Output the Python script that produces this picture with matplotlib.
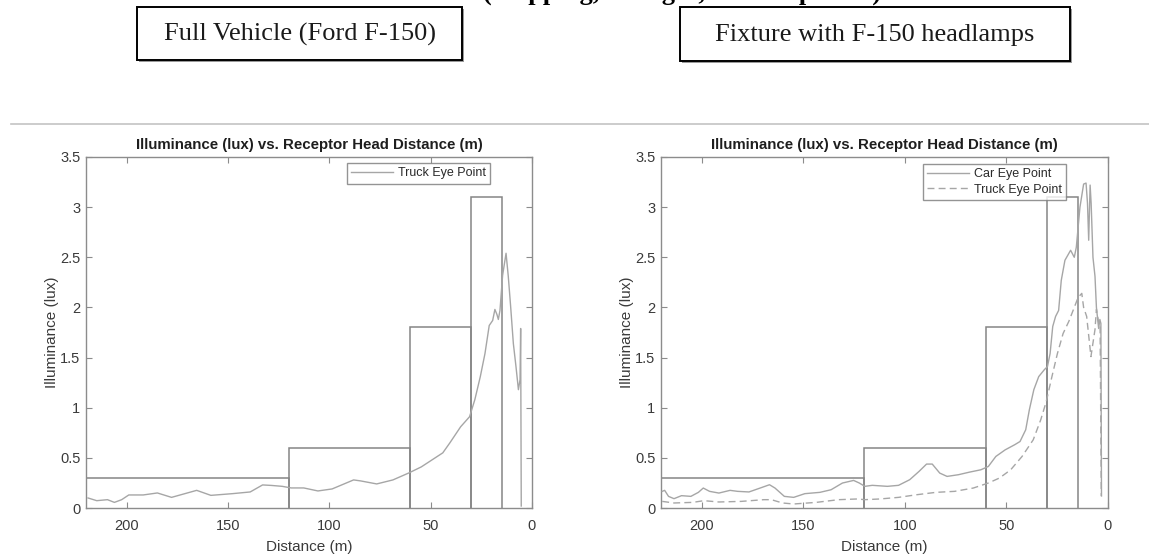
import numpy as np
import matplotlib
matplotlib.use("Agg")
import matplotlib.pyplot as plt
from matplotlib.patches import Rectangle

# ---------------- data ----------------
panel_titles = ["Full Vehicle (Ford F-150)", "Fixture with F-150 headlamps"]
header_text = "(Stopping, Straight, Level Upward)"
plot_title = "Illuminance (lux) vs. Receptor Head Distance (m)"
x_label = "Distance (m)"
y_label = "Illuminance (lux)"
x_ticks = [200, 150, 100, 50, 0]
y_ticks = [0, 0.5, 1, 1.5, 2, 2.5, 3, 3.5]
y_tick_labels = ["0", "0.5", "1", "1.5", "2", "2.5", "3", "3.5"]

# glare limit boxes: distance edges and limit values
limit_edges = [220, 120, 60, 30, 15]
limit_values = [0.3, 0.6, 1.8, 3.1]

# left panel: full vehicle, truck eye point
truck_full_d = [219, 214.7, 209.4, 206, 202.4, 198.9, 191.8, 184.8, 177.8, 165.4,
                158.4, 147.8, 139, 132.9, 128.5, 123.2, 118.8, 112.6, 105.6, 98.6,
                93.3, 88, 84.5, 76.6, 68.6, 60.7, 54.6, 49.3, 44, 40.5,
                35.2, 30.8, 28.2, 25.5, 23.2, 21.1, 19.4, 18.3, 17.3, 16.6,
                15.8, 14.5, 12.8, 11.7, 10.5, 9.2, 7.9, 6.7, 5.9, 5.6, 5.3]
truck_full_lux = [0.10, 0.073, 0.083, 0.056, 0.083, 0.13, 0.13, 0.15, 0.106, 0.176,
                  0.126, 0.143, 0.16, 0.23, 0.225, 0.216, 0.20, 0.20, 0.17, 0.19,
                  0.235, 0.28, 0.27, 0.24, 0.28, 0.35, 0.41, 0.48, 0.55, 0.65,
                  0.81, 0.91, 1.08, 1.31, 1.54, 1.82, 1.87, 1.98, 1.93, 1.88,
                  1.97, 2.32, 2.54, 2.31, 2.0, 1.64, 1.41, 1.18, 1.28, 1.79, 0.02]

# right panel: fixture, car eye point (solid) and truck eye point (dashed)
car_fix_d = [219.4, 218.2, 216.3, 213.6, 209.9, 205.3, 201.6, 199.2, 196.1, 191.5,
             186, 182.3, 176.7, 171.2, 166.6, 163.9, 159.3, 154.7, 149.2, 141.8,
             136.3, 130.7, 125.2, 122.4, 119.7, 116, 108.6, 103.1, 97.6, 93,
             89.3, 86.5, 82.8, 79.2, 73.6, 68.1, 62.6, 58.9, 55.2, 50.6,
             46, 43.3, 40.5, 38.7, 36.5, 34.1, 31.3, 29.8, 28.5, 27.2,
             25.8, 24.3, 23, 21.2, 18.4, 16.6, 15.6, 13.8, 12, 10.8,
             10.1, 9.5, 8.8, 8.3, 7.4, 6.4, 5.7, 4.6, 4.0, 3.5, 3.2]
car_fix_lux = [0.166, 0.176, 0.116, 0.093, 0.123, 0.116, 0.156, 0.199, 0.166, 0.149,
               0.176, 0.166, 0.16, 0.199, 0.232, 0.199, 0.116, 0.106, 0.143, 0.156,
               0.182, 0.249, 0.275, 0.249, 0.216, 0.226, 0.216, 0.226, 0.282, 0.365,
               0.438, 0.438, 0.348, 0.315, 0.332, 0.358, 0.381, 0.414, 0.514, 0.58,
               0.63, 0.663, 0.78, 0.98, 1.18, 1.31, 1.38, 1.41, 1.54, 1.81,
               1.91, 1.97, 2.27, 2.47, 2.57, 2.50, 2.60, 3.0, 3.23, 3.24,
               3.04, 2.67, 3.22, 3.04, 2.50, 2.31, 2.0, 1.79, 1.88, 1.84, 0.12]

truck_fix_d = [219.4, 213.6, 204.4, 198.9, 191.5, 180.5, 169.4, 165.7, 160.2, 154.7,
               143.6, 132.6, 123.4, 119.7, 112.3, 103.1, 93.9, 84.7, 75.5, 66.3,
               58.9, 53.4, 47.9, 42.3, 36.8, 33.1, 30.4, 27.6, 24.9, 22.1,
               19.3, 16.6, 14.7, 12.9, 12, 10.5, 8.4, 6.4, 5.7, 4.6, 3.9, 3.3]
truck_fix_lux = [0.066, 0.05, 0.056, 0.073, 0.06, 0.066, 0.083, 0.083, 0.05, 0.04,
                 0.056, 0.083, 0.09, 0.083, 0.09, 0.106, 0.133, 0.156, 0.166, 0.199,
                 0.249, 0.299, 0.381, 0.514, 0.68, 0.88, 1.06, 1.31, 1.54, 1.74,
                 1.86, 2.0, 2.10, 2.14, 2.0, 1.91, 1.51, 1.78, 1.98, 1.85, 1.85, 0.12]

# ---------------- figure ----------------
W, H = 1149, 557
fig = plt.figure(figsize=(W / 100, H / 100), dpi=100)
fig.patch.set_facecolor("white")

sans = ["Liberation Sans", "DejaVu Sans"]
serif = ["Liberation Serif", "DejaVu Serif"]

# heading that is cut off by the top edge (only descenders visible, as in the source)
fig.text(682 / W, (H + 0.5) / H, header_text, ha="center", va="baseline",
         fontsize=19, fontweight="bold", family=serif, color="black")

# framed panel captions
boxes = [(137, 7, 462, 60), (680, 7, 1070, 61)]
for (x0, y0, x1, y1), txt in zip(boxes, panel_titles):
    fig.add_artist(Rectangle(((x0 + 2) / W, (H - y1 - 2) / H), (x1 - x0) / W, (y1 - y0) / H,
                             transform=fig.transFigure, facecolor="#9a9a9a",
                             edgecolor="none", zorder=1))
    fig.add_artist(Rectangle((x0 / W, (H - y1) / H), (x1 - x0) / W, (y1 - y0) / H,
                             transform=fig.transFigure, facecolor="white",
                             edgecolor="black", linewidth=1.4, zorder=2))
    fig.text((x0 + x1) / 2 / W, (H - (y0 + y1) / 2 - 1) / H, txt, ha="center", va="center",
             fontsize=19, family=serif, color="#1a1a1a", zorder=3)

# separator line
fig.add_artist(plt.Line2D([11 / W, 1.0], [(H - 124) / H] * 2, transform=fig.transFigure,
                          color="#c4c4c4", linewidth=1.2))

axis_col = "#8c8c8c"
text_col = "#3a3a3a"
curve_col = "#a6a6a6"
box_col = "#858585"


def style(ax):
    ax.set_xlim(220, 0)
    ax.set_ylim(0, 3.5)
    ax.set_xticks(x_ticks)
    ax.set_xticklabels([str(t) for t in x_ticks], family=sans)
    ax.set_yticks(y_ticks)
    ax.set_yticklabels(y_tick_labels, family=sans)
    ax.tick_params(direction="in", top=True, right=True, length=4, width=0.8,
                   color=axis_col, labelcolor=text_col, labelsize=10.5, pad=4)
    ax.tick_params(axis="x", pad=8)
    for s in ax.spines.values():
        s.set_color(axis_col)
        s.set_linewidth(1.0)
    ax.set_title(plot_title, fontsize=10.8, fontweight="bold", family=sans,
                 color="#1e1e1e", pad=6)
    ax.set_xlabel(x_label, fontsize=11, family=sans, color=text_col, labelpad=5)
    ax.set_ylabel(y_label, fontsize=11, family=sans, color=text_col, labelpad=1)
    for i, v in enumerate(limit_values):
        a, b = limit_edges[i], limit_edges[i + 1]
        ax.plot([a, a, b, b], [0, v, v, 0], color=box_col, linewidth=1.1,
                solid_joinstyle="miter", clip_on=True, zorder=2)


axL = fig.add_axes([86 / W, (H - 508) / H, 446 / W, 351 / H])
axR = fig.add_axes([661 / W, (H - 508) / H, 447 / W, 351 / H])

leg_kw = dict(loc="upper right", frameon=True, fancybox=False, edgecolor="#7a7a7a",
              handlelength=3.3, borderpad=0.35, handletextpad=0.4, borderaxespad=0,
              labelspacing=0.25, prop={"family": sans, "size": 9})

style(axL)
axL.plot(truck_full_d, truck_full_lux, color=curve_col, linewidth=1.0,
         label="Truck Eye Point", zorder=3)
legL = axL.legend(bbox_to_anchor=(0.906, 0.983), **leg_kw)
legL.get_frame().set_linewidth(1.0)

style(axR)
axR.plot(car_fix_d, car_fix_lux, color=curve_col, linewidth=1.0,
         label="Car Eye Point", zorder=3)
axR.plot(truck_fix_d, truck_fix_lux, color=curve_col, linewidth=1.0,
         linestyle=(0, (5, 3)), label="Truck Eye Point", zorder=3)
legR = axR.legend(bbox_to_anchor=(0.906, 0.980), **leg_kw)
legR.get_frame().set_linewidth(1.0)

for leg in (legL, legR):
    for t in leg.get_texts():
        t.set_color("#2a2a2a")

fig.savefig("out.png", dpi=100)
